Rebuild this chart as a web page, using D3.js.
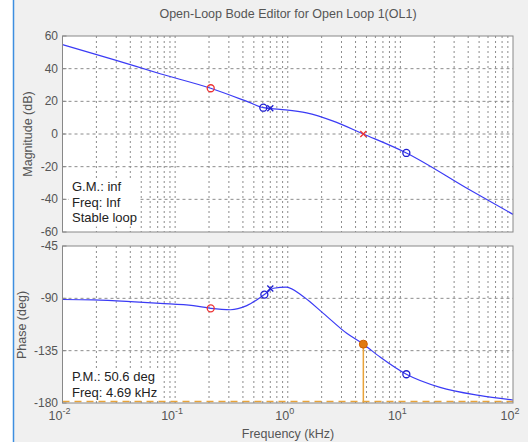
<!DOCTYPE html>
<html>
<head>
<script src="https://cdnjs.cloudflare.com/ajax/libs/d3/7.8.5/d3.min.js"></script>
<style>
  body { margin: 0; background: #fff; }
  text { font-family: "Liberation Sans", Arial, sans-serif; }
</style>
</head>
<body>
<div id="container"></div>
<script>
// magnitude response (kHz, dB)
var magFreq = [0.01, 0.028, 0.0736, 0.207, 0.45, 0.607, 0.854, 1.47, 2.5, 4.69, 11.3, 41.5, 100];
var magDb   = [54.7, 45.7, 36.9, 28.0, 19.5, 16.1, 15.1, 12.9, 8.0, 0.0, -11.6, -34.3, -49.2];
// phase response (kHz, deg)
var phFreq = [0.01, 0.0188, 0.037, 0.0736, 0.145, 0.207, 0.31, 0.433, 0.62, 0.75, 0.97, 1.38, 2.07, 3.34, 4.69, 6.6, 11.3, 22.5, 50, 100];
var phDeg  = [-91.0, -91.4, -92.6, -94.3, -96.3, -98.6, -99.8, -96.3, -86.8, -81.3, -80.3, -88.6, -102.9, -120.1, -129.4, -140.5, -155.3, -166.6, -173.5, -177.4];

var magTicks = [60, 40, 20, 0, -20, -40, -60];
var phTicks = [-45, -90, -135, -180];
var decades = [-2, -1, 0, 1, 2];

var gmText = ["G.M.: inf", "Freq: Inf", "Stable loop"];
var pmText = ["P.M.: 50.6 deg", "Freq: 4.69 kHz"];
var pmFreq = 4.69, pmPhase = -129.4;

var W = 528, H = 442;
var svg = d3.select("#container").append("svg").attr("width", W).attr("height", H);

svg.append("rect").attr("x", 13).attr("y", 0).attr("width", W - 13).attr("height", H).attr("fill", "#f0f0f0");
svg.append("line").attr("x1", 13.5).attr("x2", 13.5).attr("y1", 0).attr("y2", H)
  .attr("stroke", "#3d8ee0").attr("stroke-width", 1.5);

var x = d3.scaleLog().domain([0.01, 100]).range([62.5, 513]);
var yMag = d3.scaleLinear().domain([-60, 60]).range([232, 36]);
var yPh = d3.scaleLinear().domain([-180, -45]).range([403, 246]);

var minor = [];
for (var e = -2; e < 2; e++) {
  for (var k = 1; k < 10; k++) minor.push(k * Math.pow(10, e));
}
minor.push(100);

svg.append("text").attr("x", 288).attr("y", 18).attr("text-anchor", "middle")
  .attr("font-size", 12.5).attr("fill", "#555").text("Open-Loop Bode Editor for Open Loop 1(OL1)");

function panel(y, ticks) {
  var g = svg.append("g");
  var y0 = y.range()[0], y1 = y.range()[1];
  g.append("rect").attr("x", x.range()[0]).attr("y", y1)
    .attr("width", x.range()[1] - x.range()[0]).attr("height", y0 - y1).attr("fill", "#fff");
  g.selectAll(".vg").data(minor.slice(1, -1)).enter().append("line")
    .attr("x1", function(d) { return x(d); }).attr("x2", function(d) { return x(d); })
    .attr("y1", y1).attr("y2", y0)
    .attr("stroke", "#8c8c8c").attr("stroke-dasharray", "2,3");
  g.selectAll(".hg").data(ticks.slice(1, -1)).enter().append("line")
    .attr("x1", x.range()[0]).attr("x2", x.range()[1])
    .attr("y1", function(d) { return y(d); }).attr("y2", function(d) { return y(d); })
    .attr("stroke", "#8c8c8c").attr("stroke-dasharray", "3,3");
  g.selectAll(".tl").data(ticks).enter().append("text")
    .attr("x", 58).attr("y", function(d) { return y(d) + 4; })
    .attr("text-anchor", "end").attr("font-size", 12).attr("fill", "#555")
    .text(function(d) { return d; });
  g.selectAll(".tk").data(ticks).enter().append("line")
    .attr("x1", x.range()[0]).attr("x2", x.range()[0] + 4)
    .attr("y1", function(d) { return y(d); }).attr("y2", function(d) { return y(d); })
    .attr("stroke", "#888");
  return g;
}

var gMag = panel(yMag, magTicks);
var gPh = panel(yPh, phTicks);

function box(g, lines, x0, yBase) {
  var t = g.append("g");
  var bg = t.append("rect").attr("fill", "#fff");
  var txt = t.selectAll("text").data(lines).enter().append("text")
    .attr("x", x0).attr("y", function(d, i) { return yBase + i * 15.5; })
    .attr("font-size", 13).attr("fill", "#222").text(function(d) { return d; });
  var w = 0;
  txt.each(function() { w = Math.max(w, this.getComputedTextLength()); });
  bg.attr("x", x0 - 3).attr("y", yBase - 13).attr("width", w + 6).attr("height", lines.length * 15.5 + 2);
}
box(gMag, gmText, 72, 191);
box(gPh, pmText, 72, 381);

// orange PM markers
gPh.append("line").attr("x1", x.range()[0]).attr("x2", x.range()[1])
  .attr("y1", yPh(-180) - 1.5).attr("y2", yPh(-180) - 1.5)
  .attr("stroke", "#e8a33a").attr("stroke-width", 1.5).attr("stroke-dasharray", "7,5");
gPh.append("line").attr("x1", x(pmFreq)).attr("x2", x(pmFreq))
  .attr("y1", yPh(pmPhase)).attr("y2", yPh(-180))
  .attr("stroke", "#e8a33a").attr("stroke-width", 1.5);

var magLine = d3.line().x(function(d) { return x(d[0]); }).y(function(d) { return yMag(d[1]); })
  .curve(d3.curveMonotoneX);
var phLine = d3.line().x(function(d) { return x(d[0]); }).y(function(d) { return yPh(d[1]); })
  .curve(d3.curveMonotoneX);

gMag.append("path").datum(d3.zip(magFreq, magDb)).attr("d", magLine)
  .attr("fill", "none").attr("stroke", "#3b3bf5").attr("stroke-width", 1.2);
gPh.append("path").datum(d3.zip(phFreq, phDeg)).attr("d", phLine)
  .attr("fill", "none").attr("stroke", "#3b3bf5").attr("stroke-width", 1.2);

// borders
[yMag, yPh].forEach(function(y) {
  svg.append("rect").attr("x", x.range()[0]).attr("y", y.range()[1])
    .attr("width", x.range()[1] - x.range()[0]).attr("height", y.range()[0] - y.range()[1])
    .attr("fill", "none").attr("stroke", "#888");
});

// markers
function circ(g, px, py, col) {
  g.append("circle").attr("cx", px).attr("cy", py).attr("r", 3.5)
    .attr("fill", "none").attr("stroke", col).attr("stroke-width", 1.3);
}
function cross(g, px, py, col) {
  g.append("path").attr("d", "M" + (px - 3) + "," + (py - 3) + "L" + (px + 3) + "," + (py + 3) +
    "M" + (px - 3) + "," + (py + 3) + "L" + (px + 3) + "," + (py - 3))
    .attr("stroke", col).attr("stroke-width", 1.3);
}
circ(gMag, x(0.207), yMag(28.0), "#e33");
circ(gMag, x(0.607), yMag(16.1), "#1f1fd0");
cross(gMag, x(0.7), yMag(15.8), "#1f1fd0");
cross(gMag, x(pmFreq), yMag(0), "#e33");
circ(gMag, x(11.3), yMag(-11.6), "#1f1fd0");

circ(gPh, x(0.207), yPh(-98.6), "#e33");
circ(gPh, x(0.62), yPh(-86.8), "#1f1fd0");
cross(gPh, x(0.7), yPh(-81.6), "#1f1fd0");
gPh.append("circle").attr("cx", x(pmFreq)).attr("cy", yPh(pmPhase)).attr("r", 4)
  .attr("fill", "#e07a10").attr("stroke", "#d06000");
circ(gPh, x(11.3), yPh(-155.3), "#1f1fd0");

// x tick labels
var xl = svg.selectAll(".xl").data(decades).enter().append("text")
  .attr("x", function(d) { return x(Math.pow(10, d)) - 3; }).attr("y", 420)
  .attr("text-anchor", "middle").attr("font-size", 12.5).attr("fill", "#555");
xl.append("tspan").text("10");
xl.append("tspan").attr("dy", -6).attr("font-size", 9).text(function(d) { return d; });

svg.append("text").attr("x", 288).attr("y", 438).attr("text-anchor", "middle")
  .attr("font-size", 12.5).attr("fill", "#555").text("Frequency (kHz)");
svg.append("text").attr("transform", "translate(32,134) rotate(-90)").attr("text-anchor", "middle")
  .attr("font-size", 12.5).attr("fill", "#555").text("Magnitude (dB)");
svg.append("text").attr("transform", "translate(26,325) rotate(-90)").attr("text-anchor", "middle")
  .attr("font-size", 12.5).attr("fill", "#555").text("Phase (deg)");
</script>
</body>
</html>
